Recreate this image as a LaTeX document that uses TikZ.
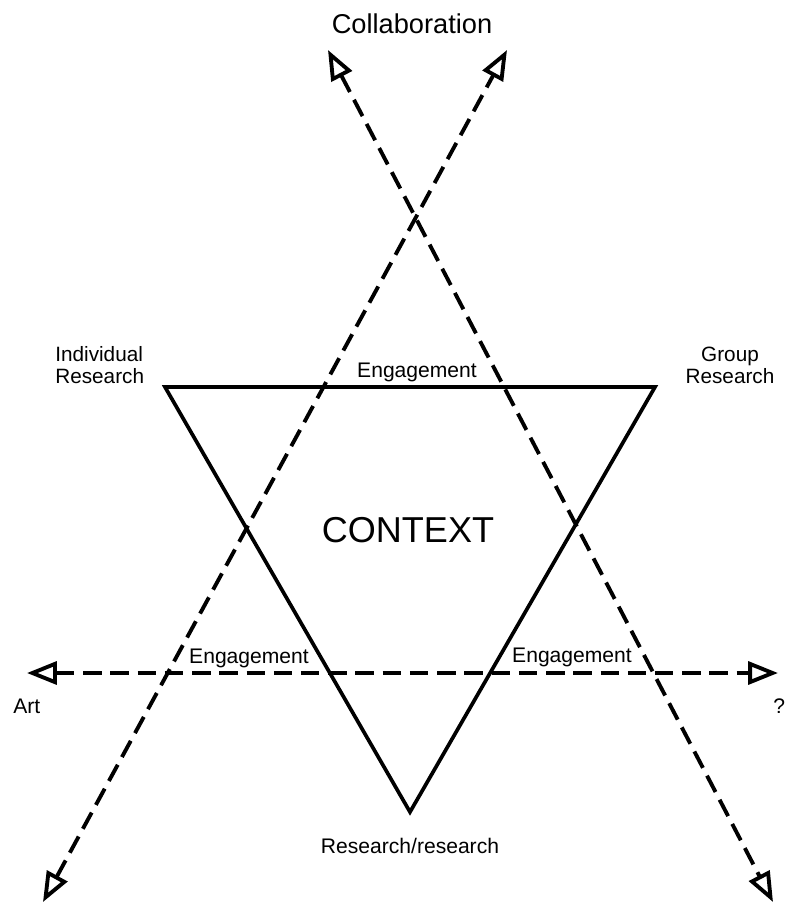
\documentclass[tikz,border=0pt]{standalone}
\usepackage{fontspec}
\setmainfont{Liberation Sans}
\usetikzlibrary{arrows.meta,positioning}

\begin{document}
\begin{tikzpicture}
  [x=0.02cm,y=-0.02cm,
  axis/.style={draw,line width=2.2pt,dash pattern=on 10.5pt off 5pt,
    {Triangle[open,length=17pt,width=13pt]}-{Triangle[open,length=17pt,width=13pt]}},
  side/.style={draw,line width=2.1pt,line join=miter},
  caption/.style={inner sep=0pt,anchor=base,font=\fontsize{12}{12}\selectfont},
  corner/.style={caption,font=\fontsize{11.8}{12}\selectfont}]

\useasboundingbox (0,0) rectangle (787,904);

% context triangle
\coordinate (ir-corner) at (165,387);
\coordinate (gr-corner) at (655,387);
\coordinate (rr-corner) at (410,812);
\draw[side] (ir-corner) -- (gr-corner) -- (rr-corner) -- cycle;

% dashed axes
\coordinate (art-end) at (27,673);
\coordinate (q-end) at (778,673);
\coordinate (collab-left) at (328,50);
\coordinate (collab-right) at (507,50);
\coordinate (low-left) at (43,902);
\coordinate (low-right) at (773,902);

\draw[axis] (art-end) -- (q-end);
\draw[axis] (low-left) -- (collab-right);
\draw[axis] (collab-left) -- (low-right);

% labels
\node[caption,font=\fontsize{15.5}{16}\selectfont] (collab) at (412,33) {Collaboration};
\node[corner,anchor=base west,align=left] (indiv-research) at (55,383) {Individual\\Research};
\node[corner,align=center] (group-research) at (730,383) {Group\\Research};
\node[caption] (engage-top) at (417,377) {Engagement};
\node[caption] (engage-left) at (249,663) {Engagement};
\node[caption] (engage-right) at (572,662) {Engagement};
\node[caption,font=\fontsize{20.5}{21}\selectfont] (context) at (408,542) {CONTEXT};
\node[caption] (research) at (410,853) {Research/research};
\node[caption,anchor=base west] (art) at (13,713) {Art};
\node[caption,anchor=base west] (unknown) at (773,713) {?};

\end{tikzpicture}
\end{document}
